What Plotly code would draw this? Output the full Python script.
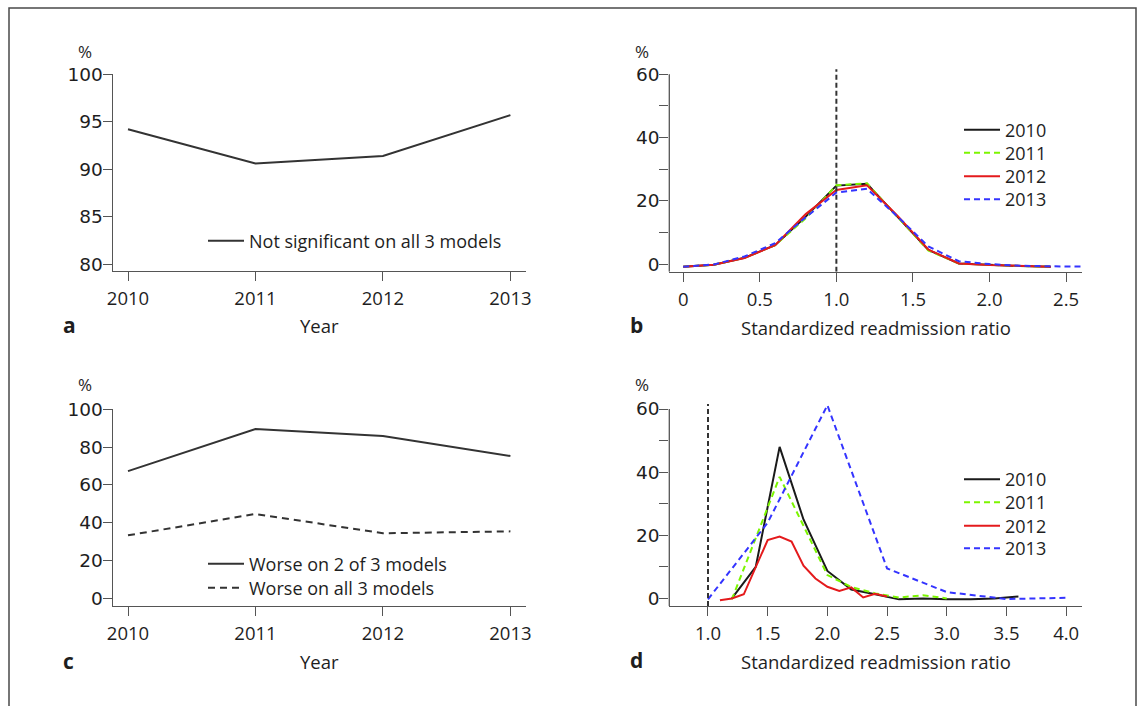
import plotly.graph_objects as go

W, H = 1143, 706
FONT = "Open Sans"
YFONT = "DejaVu Sans"
TXT = "#1e1e1e"
AX = "#555555"
FS = 18.5

# ---------------- data ----------------
years = [2010, 2011, 2012, 2013]
year_labels = ["2010", "2011", "2012", "2013"]

# panel a
not_significant = [94.2, 90.6, 91.4, 95.7]

# panel c
worse_2_of_3 = [67.3, 89.6, 85.9, 75.3]
worse_all_3 = [33.3, 44.6, 34.4, 35.4]

# panel b (standardized readmission ratio distribution, %)
b_srr = [0.0, 0.2, 0.4, 0.6, 0.8, 1.0, 1.2, 1.4, 1.6, 1.8, 2.0, 2.2, 2.4]
b_srr_2013 = [0.0, 0.2, 0.4, 0.6, 0.8, 1.0, 1.2, 1.4, 1.6, 1.8, 2.0, 2.2, 2.4, 2.6]
b_2010 = [-0.8, -0.2, 2.0, 6.0, 15.0, 24.8, 25.4, 15.0, 4.5, 0.2, -0.3, -0.6, -0.8]
b_2011 = [-0.8, -0.2, 2.0, 6.0, 14.5, 24.9, 25.5, 15.0, 4.3, 0.2, -0.3, -0.6, -0.8]
b_2012 = [-0.8, -0.2, 1.9, 6.0, 15.8, 23.4, 24.9, 15.2, 4.6, 0.2, -0.3, -0.6, -0.8]
b_2013 = [-0.8, -0.1, 2.4, 6.6, 14.8, 22.6, 23.8, 15.0, 5.6, 0.9, 0.0, -0.5, -0.7, -0.8]

# panel d
d_srr_2010 = [1.2, 1.4, 1.6, 1.8, 2.0, 2.2, 2.4, 2.6, 2.8, 3.0, 3.2, 3.4, 3.6]
d_2010 = [0.0, 10.0, 48.0, 25.0, 8.7, 2.8, 1.3, -0.3, 0.0, -0.3, -0.3, 0.0, 0.6]
d_srr_2011 = [1.2, 1.4, 1.6, 1.8, 2.0, 2.2, 2.4, 2.6, 2.8, 3.0]
d_2011 = [-0.3, 19.0, 38.5, 23.0, 7.4, 3.6, 1.6, 0.3, 1.0, 0.0]
d_srr_2012 = [1.1, 1.2, 1.3, 1.4, 1.5, 1.6, 1.7, 1.8, 1.9, 2.0, 2.1, 2.2, 2.3, 2.4, 2.5]
d_2012 = [-0.6, 0.0, 1.3, 9.8, 18.5, 19.6, 18.0, 10.4, 6.3, 3.7, 2.4, 3.5, 0.3, 1.5, 0.6]
d_srr_2013 = [1.0, 1.5, 2.0, 2.5, 3.0, 3.5, 4.0]
d_2013 = [-0.3, 24.0, 61.2, 9.5, 2.0, -0.2, 0.2]

ref_ratio = 1.0

b_ticks = [0, 0.5, 1.0, 1.5, 2.0, 2.5]
b_ticklabels = ["0", "0.5", "1.0", "1.5", "2.0", "2.5"]
d_ticks = [1.0, 1.5, 2.0, 2.5, 3.0, 3.5, 4.0]
d_ticklabels = ["1.0", "1.5", "2.0", "2.5", "3.0", "3.5", "4.0"]
pct_ticks = [0, 10, 20, 30, 40, 50, 60]
pct_ticklabels = ["0", "", "20", "", "40", "", "60"]
a_ticks = [80, 85, 90, 95, 100]
c_ticks = [0, 20, 40, 60, 80, 100]

col_2010 = "#1a1a1a"
col_2011 = "#7cf500"
col_2012 = "#e41a1c"
col_2013 = "#3434ff"

# ---------------- helpers ----------------
def px_x(p):
    return p / W

def px_y(p):
    return 1 - p / H

fig = go.Figure()

legend_rows = {}  # legend id -> (x px, y px)

def add_line(xs, ys, name, color, dash, xa, ya, leg, lx, ly):
    fig.add_trace(go.Scatter(x=xs, y=ys, mode="lines", name=name,
                             line=dict(color=color, width=2, dash=dash),
                             xaxis=xa, yaxis=ya, legend=leg))
    legend_rows[leg] = (lx, ly)

# panel a
add_line(years, not_significant, "Not significant on all 3 models", "#333333",
         "solid", "x", "y", "legend", 203, 241)
# panel c
add_line(years, worse_2_of_3, "Worse on 2 of 3 models", "#333333",
         "solid", "x3", "y3", "legend2", 203, 564)
add_line(years, worse_all_3, "Worse on all 3 models", "#333333",
         "7px,5px", "x3", "y3", "legend3", 203, 588)

# panel b
b_rows = [130, 153, 176.5, 199.5]
for i, (xs, ys, nm, col, dash) in enumerate([
    (b_srr, b_2010, "2010", col_2010, "solid"),
    (b_srr, b_2011, "2011", col_2011, "6px,4px"),
    (b_srr, b_2012, "2012", col_2012, "solid"),
    (b_srr_2013, b_2013, "2013", col_2013, "6px,4px"),
]):
    add_line(xs, ys, nm, col, dash, "x2", "y2", "legend%d" % (4 + i), 959, b_rows[i])

# panel d
d_rows = [479.5, 502.5, 526, 548.5]
for i, (xs, ys, nm, col, dash) in enumerate([
    (d_srr_2010, d_2010, "2010", col_2010, "solid"),
    (d_srr_2011, d_2011, "2011", col_2011, "6px,4px"),
    (d_srr_2012, d_2012, "2012", col_2012, "solid"),
    (d_srr_2013, d_2013, "2013", col_2013, "6px,4px"),
]):
    add_line(xs, ys, nm, col, dash, "x4", "y4", "legend%d" % (8 + i), 959, d_rows[i])

# ---------------- axes ----------------
xtickfont = dict(family=FONT, size=FS, color=TXT)
ytickfont = dict(family=YFONT, size=18.5, color=TXT)
common = dict(showgrid=False, zeroline=False, ticks="outside", ticklen=9,
              tickwidth=1.3, tickcolor=AX, linecolor=AX, linewidth=1.3,
              fixedrange=True, automargin=False)
xcommon = dict(ticklabelstandoff=2, tickfont=xtickfont, showline=True, **common)
ycommon = dict(ticklabelstandoff=-4, tickfont=ytickfont, **common)

left_dom = [px_x(112.7), px_x(525.7)]
right_dom = [px_x(669.3), px_x(1081.7)]

b_ymax = 62
d_ymax = 62

fig.update_layout(
    xaxis=dict(domain=left_dom, range=[2009.88, 2013.12], tickvals=years,
               ticktext=year_labels, anchor="y", **xcommon),
    yaxis=dict(domain=[px_y(270.7), px_y(74.3)], range=[79.3, 100],
               tickvals=a_ticks, showline=True, anchor="x", **ycommon),
    xaxis3=dict(domain=left_dom, range=[2009.88, 2013.12], tickvals=years,
                ticktext=year_labels, anchor="y3", **xcommon),
    yaxis3=dict(domain=[px_y(606), px_y(409.3)], range=[-4.1, 100],
                tickvals=c_ticks, showline=True, anchor="x3", **ycommon),
    xaxis2=dict(domain=right_dom, range=[-0.091, 2.602], tickvals=b_ticks,
                ticktext=b_ticklabels, anchor="y2", **xcommon),
    yaxis2=dict(domain=[px_y(271.7), px_y(74.2 - 2 * 3.163)], range=[-2.4, b_ymax],
                tickvals=pct_ticks, ticktext=pct_ticklabels, showline=False,
                anchor="x2", **ycommon),
    xaxis4=dict(domain=right_dom, range=[0.676, 4.13], tickvals=d_ticks,
                ticktext=d_ticklabels, anchor="y4", **xcommon),
    yaxis4=dict(domain=[px_y(606), px_y(409 - 2 * 3.155)], range=[-2.4, d_ymax],
                tickvals=pct_ticks, ticktext=pct_ticklabels, showline=False,
                anchor="x4", **ycommon),
)

# ---------------- shapes ----------------
shapes = []
# y axis lines of panels b and d (stop at 60)
for xr, yr in [("x2", "y2"), ("x4", "y4")]:
    shapes.append(dict(type="line", xref=xr + " domain", yref=yr,
                       x0=0, x1=0, y0=-2.4, y1=60,
                       line=dict(color=AX, width=1.3)))
# reference lines at ratio 1.0
for xr, yr in [("x2", "y2"), ("x4", "y4")]:
    shapes.append(dict(type="line", xref=xr, yref=yr,
                       x0=ref_ratio, x1=ref_ratio, y0=-2.4, y1=61.6,
                       line=dict(color="#333333", width=2, dash="5px,3px")))
# outer frame
shapes.append(dict(type="rect", xref="paper", yref="paper",
                   x0=px_x(9), x1=px_x(1136), y0=-0.05, y1=px_y(8),
                   line=dict(color="#4a4a4a", width=1.5)))

# ---------------- annotations ----------------
ann = []
def txt(s, x, y, bold=False, size=FS):
    ann.append(dict(text=("<b>%s</b>" % s) if bold else s, x=px_x(x), y=px_y(y),
                    xref="paper", yref="paper", showarrow=False,
                    xanchor="center", yanchor="middle",
                    font=dict(family=FONT, size=size, color=TXT)))

txt("%", 85, 51, size=17)
txt("%", 642, 51, size=17)
txt("%", 85, 384, size=17)
txt("%", 642, 384, size=17)
txt("Year", 319, 325)
txt("Year", 319, 661)
txt("Standardized readmission ratio", 875.5, 327)
txt("Standardized readmission ratio", 875.5, 661)
txt("a", 69, 325, bold=True, size=21)
txt("b", 636, 325, bold=True, size=21)
txt("c", 68, 661, bold=True, size=21)
txt("d", 636, 660, bold=True, size=21)

legfont = dict(family=FONT, size=18, color=TXT)
legends = {}
for leg, (lx, ly) in legend_rows.items():
    legends[leg] = dict(bgcolor="rgba(0,0,0,0)", borderwidth=0, font=legfont,
                        xanchor="left", yanchor="middle", itemwidth=36,
                        x=px_x(lx), y=px_y(ly))

fig.update_layout(
    width=W, height=H,
    margin=dict(l=0, r=0, t=0, b=0, pad=0, autoexpand=False),
    paper_bgcolor="white", plot_bgcolor="white",
    shapes=shapes, annotations=ann,
    showlegend=True,
    font=dict(family=FONT, color=TXT),
    **legends,
)

fig.write_html(
    "out.html",
    config={"displayModeBar": False},
    post_script="document.body.style.margin='0px';document.body.style.padding='0px';"
                "document.documentElement.style.overflow='hidden';document.body.style.overflow='hidden';",
)
